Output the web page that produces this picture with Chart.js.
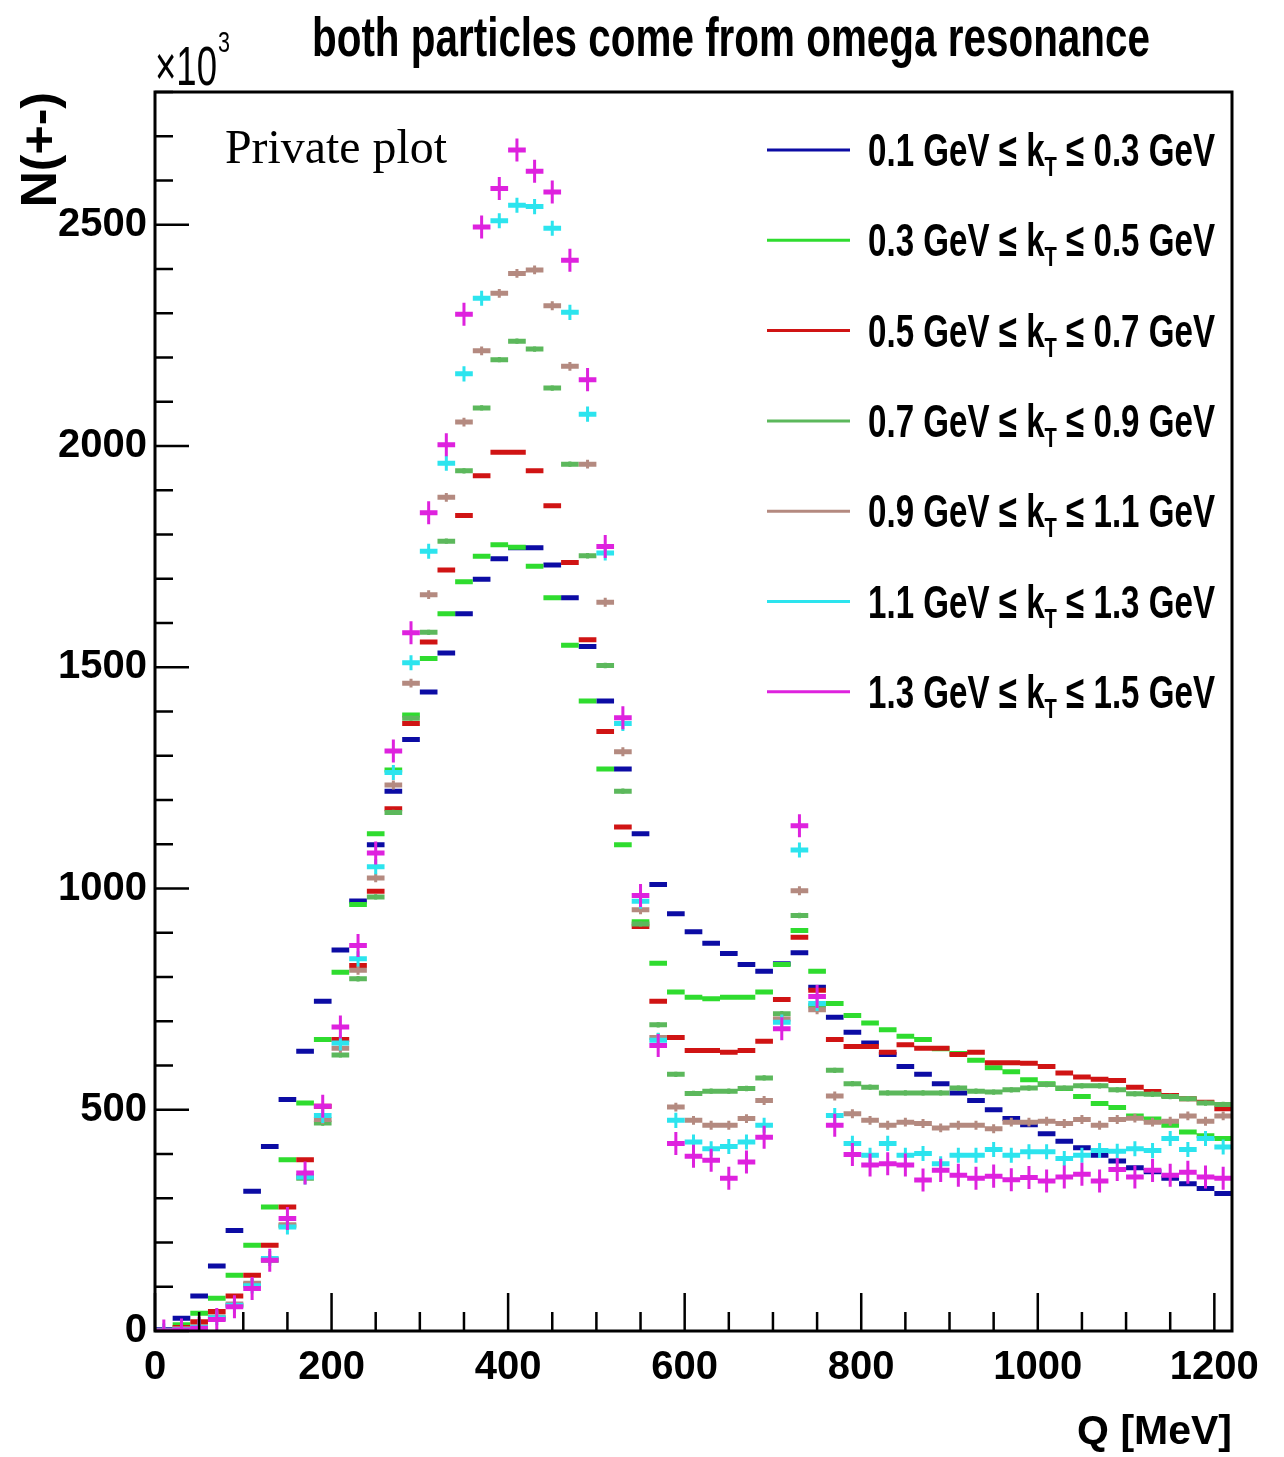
<!DOCTYPE html>
<html>
<head>
<meta charset="utf-8">
<title>both particles come from omega resonance</title>
<script src="https://cdn.jsdelivr.net/npm/chart.js@4.4.1/dist/chart.umd.min.js"></script>
<style>
  html, body { margin: 0; padding: 0; background: #ffffff; }
</style>
</head>
<body>
<canvas id="chart_omegaQ" width="1284" height="1457"></canvas>
<script>
// Q histogram: 61 bins of 20 MeV (0 .. 1220 MeV), counts in units of 10^3
var binWidth = 20;

var kt01_03 = [3, 29, 79, 147, 227, 316, 417, 523, 632, 745, 861, 972, 1099, 1220, 1337, 1444, 1532, 1621, 1699, 1745,
  1770, 1770, 1731, 1657, 1547, 1424, 1270, 1124, 1009, 943, 902, 876, 853, 828, 813, 830, 855, 777, 709, 675,
  651, 625, 598, 580, 559, 538, 521, 500, 480, 466, 446, 429, 414, 397, 384, 369, 360, 345, 333, 322, 311];
var kt03_05 = [1, 14, 40, 74, 126, 194, 280, 387, 515, 659, 811, 964, 1124, 1268, 1392, 1520, 1621, 1693, 1751, 1777,
  1771, 1728, 1657, 1550, 1424, 1270, 1099, 925, 831, 766, 754, 751, 754, 754, 766, 828, 905, 813, 740, 713,
  696, 681, 666, 659, 638, 627, 612, 595, 586, 568, 559, 548, 530, 514, 505, 486, 479, 465, 450, 441, 435];
var kt05_07 = [0, 8, 21, 44, 79, 126, 194, 280, 387, 508, 659, 826, 994, 1180, 1373, 1557, 1720, 1843, 1933, 1986,
  1986, 1944, 1865, 1737, 1562, 1355, 1139, 914, 745, 663, 634, 634, 630, 634, 655, 749, 890, 770, 659, 643,
  643, 630, 647, 639, 639, 625, 630, 606, 606, 605, 598, 583, 574, 569, 566, 551, 541, 532, 525, 517, 502];
var kt07_09 = [0, 3, 8, 28, 58, 105, 160, 238, 345, 470, 624, 796, 981, 1172, 1385, 1579, 1785, 1944, 2086, 2195,
  2237, 2219, 2131, 1959, 1752, 1504, 1220, 920, 692, 580, 537, 542, 542, 548, 572, 717, 939, 735, 589, 559,
  551, 538, 538, 538, 538, 549, 542, 540, 545, 549, 557, 549, 554, 554, 545, 536, 535, 530, 525, 515, 512];
var kt09_11 = [0, 5, 10, 32, 61, 108, 162, 240, 350, 478, 639, 815, 1024, 1234, 1464, 1664, 1884, 2054, 2215, 2345,
  2390, 2398, 2317, 2180, 1959, 1647, 1309, 952, 663, 506, 476, 465, 465, 480, 521, 705, 995, 726, 531, 491,
  476, 465, 472, 469, 459, 465, 465, 457, 472, 472, 474, 469, 478, 465, 478, 481, 472, 474, 486, 474, 486];
var kt11_13 = [0, 3, 8, 30, 58, 102, 164, 235, 348, 487, 651, 841, 1049, 1262, 1510, 1762, 1961, 2163, 2334, 2509,
  2544, 2541, 2492, 2302, 2072, 1758, 1373, 971, 657, 476, 427, 412, 417, 427, 465, 698, 1087, 740, 487, 424,
  397, 424, 397, 401, 378, 397, 397, 410, 397, 405, 405, 390, 397, 408, 406, 412, 408, 435, 410, 435, 416];
var kt13_15 = [0, 2, 6, 26, 55, 96, 160, 254, 357, 508, 687, 871, 1080, 1311, 1578, 1849, 2003, 2298, 2495, 2582,
  2669, 2621, 2574, 2420, 2150, 1773, 1386, 984, 645, 424, 395, 386, 345, 382, 438, 683, 1142, 756, 465, 399,
  375, 378, 375, 341, 363, 352, 345, 350, 342, 347, 339, 348, 354, 339, 365, 348, 363, 352, 359, 348, 345];

// statistical error half-size per series (10^3)
var errHalf = [0, 1, 4, 6, 10, 17, 26];

var seriesValues = [kt01_03, kt03_05, kt05_07, kt07_09, kt09_11, kt11_13, kt13_15];
var ktLow = ['0.1', '0.3', '0.5', '0.7', '0.9', '1.1', '1.3'];
var ktHigh = ['0.3', '0.5', '0.7', '0.9', '1.1', '1.3', '1.5'];
var seriesColors = ['#0c0ca4', '#2fdc2f', '#d01414', '#5cb85c', '#b48a80', '#2ce4ee', '#de22de'];

var xTickLabels = [0, 200, 400, 600, 800, 1000, 1200];
var yTickLabels = [0, 500, 1000, 1500, 2000, 2500];
var xMax = 1220;
var yMax = 2800;

var sansBold = "'Liberation Sans', Arial, Helvetica, sans-serif";

function binSegments(values) {
    var pts = [];
    values.forEach(function(v, i) {
        pts.push({x: i * binWidth, y: v}, {x: (i + 1) * binWidth, y: v}, {x: (i + 1) * binWidth, y: null});
    });
    return pts;
}

function errSegments(values, e) {
    var pts = [];
    values.forEach(function(v, i) {
        var c = (i + 0.5) * binWidth;
        pts.push({x: c, y: v - e}, {x: c, y: v + e}, {x: c, y: null});
    });
    return pts;
}

var datasets = [];
seriesValues.forEach(function(vals, s) {
    datasets.push({
        label: ktLow[s] + ' GeV \u2264 kT \u2264 ' + ktHigh[s] + ' GeV',
        data: binSegments(vals),
        borderColor: seriesColors[s],
        borderWidth: 5,
        borderCapStyle: 'butt',
        pointRadius: 0,
        pointHitRadius: 0,
        spanGaps: false,
        order: (6 - s) * 2 + 1
    });
    if (errHalf[s] > 0) {
        datasets.push({
            label: 'err ' + s,
            data: errSegments(vals, errHalf[s]),
            borderColor: seriesColors[s],
            borderWidth: 3,
            borderCapStyle: 'butt',
            pointRadius: 0,
            pointHitRadius: 0,
            spanGaps: false,
            order: (6 - s) * 2
        });
    }
});

// squeeze a text horizontally into a target width
function fitText(ctx, text, x, y, width) {
    var w = ctx.measureText(text).width;
    ctx.save();
    ctx.translate(x, y);
    ctx.scale(width / w, 1);
    ctx.fillText(text, 0, 0);
    ctx.restore();
}

var rootFrame = {
    id: 'rootFrame',
    afterDraw: function(chart) {
        var ctx = chart.ctx, a = chart.chartArea;
        var xs = chart.scales.x, ys = chart.scales.y;
        ctx.save();
        ctx.strokeStyle = '#000';
        ctx.lineWidth = 2.5;
        ctx.beginPath();
        for (var v = 0; v <= yMax; v += 100) {
            var py = ys.getPixelForValue(v);
            ctx.moveTo(a.left, py);
            ctx.lineTo(a.left + (v % 500 === 0 ? 34 : 18), py);
        }
        for (var q = 0; q <= xMax; q += 50) {
            var px = xs.getPixelForValue(q);
            ctx.moveTo(px, a.bottom);
            ctx.lineTo(px, a.bottom - (q % 200 === 0 ? 38 : 19));
        }
        ctx.stroke();
        ctx.lineWidth = 3;
        ctx.strokeRect(a.left, a.top, a.right - a.left, a.bottom - a.top);

        // title
        ctx.fillStyle = '#000';
        ctx.textBaseline = 'alphabetic';
        ctx.textAlign = 'left';
        ctx.font = 'bold 56px ' + sansBold;
        fitText(ctx, 'both particles come from omega resonance', a.left + 157, a.top - 36, 838);

        // x10^3
        ctx.font = '56px ' + sansBold;
        fitText(ctx, '\u00d710', a.left, a.top - 7, 62);
        ctx.font = '30px ' + sansBold;
        fitText(ctx, '3', a.left + 63, a.top - 40, 12);

        // Private plot
        ctx.font = '48px "Liberation Serif", "Times New Roman", serif';
        fitText(ctx, 'Private plot', a.left + 70, a.top + 71, 222);

        // legend
        for (var s = 0; s < seriesValues.length; s++) {
            var ly = a.top + 58 + s * 90.3;
            ctx.strokeStyle = seriesColors[s];
            ctx.lineWidth = 3;
            ctx.beginPath();
            ctx.moveTo(a.left + 612, ly);
            ctx.lineTo(a.left + 695, ly);
            ctx.stroke();

            var left = ktLow[s] + ' GeV \u2264 k';
            var right = ' \u2264 ' + ktHigh[s] + ' GeV';
            var bigFont = 'bold 46px ' + sansBold;
            var subFont = 'bold 28px ' + sansBold;
            ctx.font = bigFont;
            var wl = ctx.measureText(left).width;
            var wr = ctx.measureText(right).width;
            ctx.font = subFont;
            var ws = ctx.measureText('T').width;
            var sx = 347 / (wl + ws + wr);
            ctx.save();
            ctx.translate(a.left + 713, ly + 16);
            ctx.scale(sx, 1);
            ctx.fillStyle = '#000';
            ctx.font = bigFont;
            ctx.fillText(left, 0, 0);
            ctx.font = subFont;
            ctx.fillText('T', wl, 10);
            ctx.font = bigFont;
            ctx.fillText(right, wl + ws, 0);
            ctx.restore();
        }
        ctx.restore();
    }
};

var chart_omegaQ = new Chart(document.getElementById('chart_omegaQ'), {
    type: 'line',
    data: { datasets: datasets },
    options: {
        responsive: false,
        animation: false,
        layout: { padding: { top: 92, right: 52, bottom: 0, left: 0 } },
        plugins: {
            legend: { display: false },
            tooltip: { enabled: false },
            title: { display: false }
        },
        scales: {
            x: {
                type: 'linear',
                min: 0,
                max: xMax,
                grid: { display: false, drawTicks: false },
                border: { display: false },
                ticks: {
                    autoSkip: false,
                    maxRotation: 0,
                    padding: 13,
                    color: '#000',
                    font: { family: sansBold, size: 40, weight: 'bold' },
                    callback: function(value) { return String(value); }
                },
                afterBuildTicks: function(scale) {
                    scale.ticks = xTickLabels.map(function(v) { return {value: v}; });
                },
                afterFit: function(scale) { scale.height = 126; },
                title: {
                    display: true,
                    text: 'Q [MeV]',
                    align: 'end',
                    color: '#000',
                    padding: { top: 6, bottom: 0 },
                    font: { family: sansBold, size: 41, weight: 'bold' }
                }
            },
            y: {
                type: 'linear',
                min: 0,
                max: yMax,
                grid: { display: false, drawTicks: false },
                border: { display: false },
                ticks: {
                    autoSkip: false,
                    padding: 8,
                    color: '#000',
                    font: { family: sansBold, size: 40, weight: 'bold' },
                    callback: function(value) { return String(value); }
                },
                afterBuildTicks: function(scale) {
                    scale.ticks = yTickLabels.map(function(v) { return {value: v}; });
                },
                afterFit: function(scale) { scale.width = 155; },
                title: {
                    display: true,
                    text: 'N(+-)',
                    align: 'end',
                    color: '#000',
                    padding: { top: 12, bottom: 0 },
                    font: { family: sansBold, size: 50, weight: 'bold' }
                }
            }
        }
    },
    plugins: [rootFrame]
});
</script>
</body>
</html>
